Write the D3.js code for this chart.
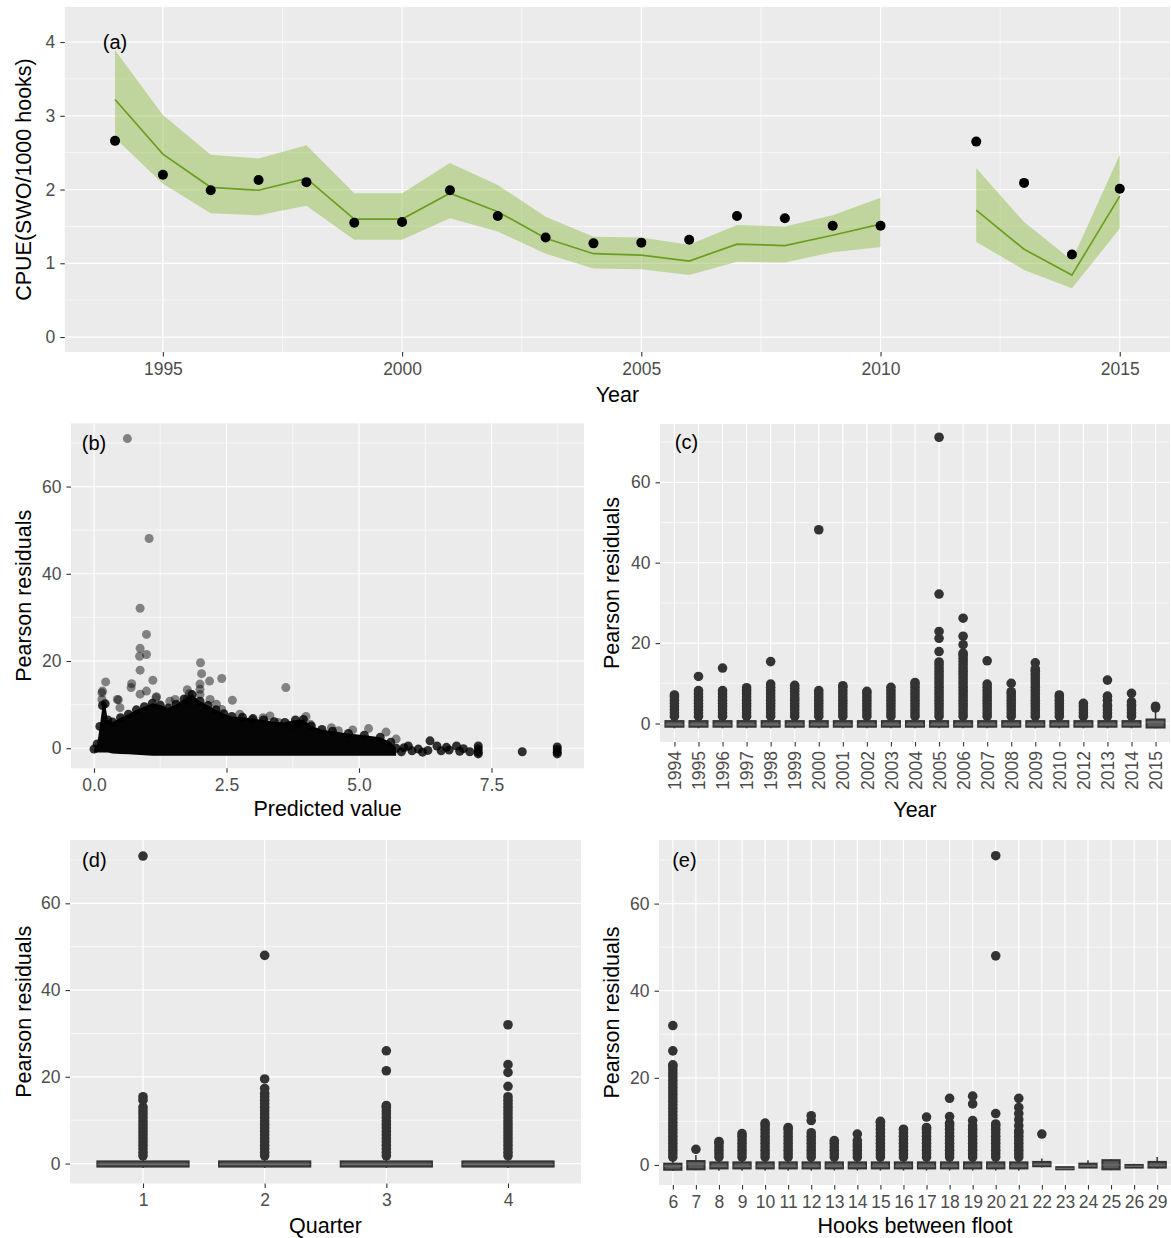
<!DOCTYPE html>
<html><head><meta charset="utf-8">
<script src="https://cdn.jsdelivr.net/npm/d3@7/dist/d3.min.js"></script>
<style>
body{margin:0;background:#fff}
svg{display:block}
</style></head><body>
<svg id="chart" width="1171" height="1238"></svg>
<script>
// ---------------- Panel (a): CPUE by year ----------------
const years = [1994,1995,1996,1997,1998,1999,2000,2001,2002,2003,2004,2005,2006,2007,2008,2009,2010,2012,2013,2014,2015];
const nominalCPUE = [2.66,2.20,1.99,2.13,2.10,1.55,1.56,1.99,1.64,1.35,1.27,1.28,1.32,1.64,1.61,1.51,1.51,2.65,2.09,1.12,2.01];
const stdCPUE     = [3.22,2.48,2.03,1.99,2.15,1.60,1.60,1.95,1.70,1.34,1.13,1.11,1.03,1.26,1.24,1.38,1.53,1.72,1.19,0.84,1.91];
const stdUpper    = [3.89,3.01,2.47,2.42,2.60,1.95,1.95,2.36,2.06,1.63,1.36,1.35,1.25,1.52,1.50,1.65,1.89,2.29,1.56,1.04,2.47];
const stdLower    = [2.70,2.08,1.68,1.65,1.78,1.32,1.32,1.61,1.43,1.13,0.93,0.92,0.84,1.02,1.01,1.15,1.22,1.29,0.91,0.66,1.47];
const yearTicksA = [1995,2000,2005,2010,2015];
const yearMinorA = [1997.5,2002.5,2007.5,2012.5];
const cpueTicks = [0,1,2,3,4];
const cpueMinor = [0.5,1.5,2.5,3.5];

// ---------------- Panel (b): residuals vs predicted ----------------
const predTicks = [0,2.5,5,7.5];
const predMinor = [1.25,3.75,6.25,8.75];
const residTicks = [0,20,40,60];
const residMinor = [10,30,50,70];
// dense cloud: [predicted, lower edge, upper point centre]
const massEnvelope = [[0.00,-1.0,-0.2],[0.06,-1.0,1.0],[0.11,-1.0,5.0],[0.16,-1.0,9.8],[0.21,-1.0,10.2],[0.26,-1.0,6.5],[0.35,-1.2,6.0],[0.50,-1.3,7.0],[0.65,-1.4,7.8],[0.80,-1.5,8.8],[0.95,-1.6,9.5],[1.10,-1.7,10.3],[1.25,-1.7,9.9],[1.40,-1.7,9.2],[1.55,-1.7,10.1],[1.70,-1.7,11.3],[1.85,-1.7,12.3],[2.00,-1.7,10.8],[2.15,-1.7,9.8],[2.30,-1.7,8.8],[2.45,-1.7,7.9],[2.60,-1.7,7.3],[2.80,-1.7,7.1],[3.00,-1.7,6.8],[3.20,-1.7,6.5],[3.40,-1.7,6.1],[3.60,-1.7,5.9],[3.80,-1.7,6.5],[3.95,-1.7,6.6],[4.10,-1.7,5.1],[4.30,-1.7,4.3],[4.50,-1.7,3.9],[4.80,-1.7,3.4],[5.10,-1.7,3.0],[5.40,-1.7,2.5],[5.60,-1.7,1.4],[5.70,-1.7,0.0]];
const scatterSparse = [[0.63,71.0],[1.04,48.1],[0.87,32.1],[0.99,26.1],[0.87,22.9],[0.99,21.5],[0.86,21.1],[0.87,17.9],[2.01,19.6],[2.03,17.1],[2.41,16.0],[2.18,15.4],[3.62,13.9],[0.22,15.2],[0.71,14.8],[0.70,13.9],[1.11,15.6],[0.16,13.1],[0.44,11.2],[1.76,13.4],[2.00,14.7],[2.61,11.0],[1.53,11.2],[1.18,11.8],[0.99,13.1],[0.87,12.4],[0.46,11.1],[0.49,9.3],[0.15,12.7],[0.15,11.2],[1.17,11.6],[1.43,10.8],[1.76,11.4],[2.19,11.2],[2.31,10.1],[2.41,8.9],[2.75,7.8],[2.98,6.5],[3.19,7.0],[3.32,7.4],[3.48,5.9],[3.67,5.3],[3.85,5.5],[4.00,7.3],[4.08,5.5],[4.48,4.7],[4.61,4.0],[4.88,4.2],[5.18,4.5],[5.51,3.7],[5.70,2.1],[1.80,12.5],[2.00,13.5],[2.00,12.3],[1.80,10.9]];
const scatterTail = [[5.80,-0.8],[5.85,0.1],[5.93,0.5],[6.00,-0.6],[6.12,-0.2],[6.20,-0.9],[6.30,-0.5],[6.34,1.7],[6.47,0.5],[6.55,-0.6],[6.65,0.2],[6.70,-0.4],[6.84,0.5],[6.90,-0.7],[6.97,-0.1],[7.09,-0.8],[7.25,0.5],[7.25,-0.2],[7.25,-0.9],[7.25,-1.3],[8.08,-0.8],[8.74,0.3],[8.74,-0.3],[8.74,-0.9],[8.74,-1.3]];

// ---------------- Panel (c): residuals by year ----------------
const yearCats = ["1994","1995","1996","1997","1998","1999","2000","2001","2002","2003","2004","2005","2006","2007","2008","2009","2010","2012","2013","2014","2015"];
// [lower whisker, q1, median, q3, upper whisker]
const yearBoxes = [[-1.2,-0.8,-0.3,0.6,1.6],[-1.2,-0.8,-0.3,0.6,1.6],[-1.2,-0.8,-0.3,0.6,1.6],[-1.2,-0.8,-0.3,0.6,1.6],[-1.2,-0.8,-0.3,0.6,1.6],[-1.2,-0.8,-0.3,0.6,1.6],[-1.2,-0.8,-0.3,0.6,1.6],[-1.2,-0.8,-0.3,0.6,1.6],[-1.2,-0.8,-0.3,0.6,1.6],[-1.2,-0.8,-0.3,0.6,1.6],[-1.2,-0.8,-0.3,0.6,1.6],[-1.2,-0.8,-0.3,0.6,1.6],[-1.2,-0.8,-0.3,0.6,1.6],[-1.2,-0.8,-0.3,0.6,1.6],[-1.2,-0.8,-0.3,0.6,1.6],[-1.2,-0.8,-0.3,0.6,1.6],[-1.2,-0.8,-0.3,0.6,1.6],[-1.2,-0.8,-0.3,0.6,1.6],[-1.2,-0.8,-0.3,0.6,1.6],[-1.2,-0.8,-0.3,0.6,1.6],[-1.2,-1.0,0.3,1.0,2.9]];
const yearOutliers = [
 [1.8,2.6,3.4,4.2,5.0,5.8,6.6,7.1],
 [1.8,2.6,3.4,4.2,5.0,5.8,6.6,7.4,8.2,11.7],
 [1.8,2.6,3.4,4.2,5.0,5.8,6.6,7.4,8.2,13.8],
 [1.8,2.6,3.4,4.2,5.0,5.8,6.6,7.4,8.2,8.9],
 [1.8,2.6,3.4,4.2,5.0,5.8,6.6,7.4,8.2,9.0,9.8,15.4],
 [1.8,2.6,3.4,4.2,5.0,5.8,6.4,7.2,8.0,8.8,9.5],
 [1.8,2.6,3.4,4.2,5.0,5.8,6.6,7.4,8.2,48.2],
 [1.8,2.6,3.4,4.2,5.0,5.8,6.6,7.4,8.2,9.0,9.4],
 [1.8,2.6,3.4,4.2,5.0,5.8,6.6,7.4,8.0],
 [1.8,2.6,3.4,4.2,5.0,5.8,6.6,7.4,8.2,9.0],
 [1.8,2.6,3.4,4.2,5.0,5.8,6.6,7.4,8.2,9.0,9.8,10.2],
 [1.8,2.6,3.4,4.2,5.0,5.8,6.6,7.4,8.2,9.0,9.8,10.6,11.4,12.2,13.0,13.8,14.6,15.3,17.9,21.2,22.9,32.2,71.2],
 [1.8,2.6,3.4,4.2,5.0,5.8,6.6,7.4,8.2,9.0,9.8,10.6,11.4,12.2,13.0,13.8,14.6,15.4,16.2,17.0,17.5,19.6,21.7,26.2],
 [1.8,2.6,3.4,4.2,5.0,5.8,6.6,7.4,8.2,9.0,9.8,15.6],
 [1.8,2.6,3.4,4.2,5.0,5.8,6.6,7.4,7.9,10.0],
 [1.8,2.6,3.4,4.2,5.0,5.8,6.6,7.4,8.2,9.0,9.8,10.6,11.4,12.2,13.0,13.6,15.1],
 [1.8,2.6,3.4,4.2,5.0,5.8,6.6,7.1],
 [1.8,2.6,3.4,4.2,5.0],
 [1.8,2.6,3.4,4.2,4.6,5.8,6.8,10.8],
 [1.8,2.6,3.4,4.2,4.7,5.4,7.5],
 [3.9,4.3]
];

// ---------------- Panel (d): residuals by quarter ----------------
const quarterCats = ["1","2","3","4"];
const quarterBoxes = [[-1.0,-0.7,-0.2,0.5,1.5],[-1.0,-0.7,-0.2,0.5,1.5],[-1.0,-0.7,-0.2,0.5,1.5],[-1.0,-0.7,-0.2,0.5,1.5]];
const quarterOutliers = [
 [1.8,2.6,3.4,4.2,5.0,5.8,6.6,7.4,8.2,9.0,9.8,10.6,11.4,12.2,13.0,14.6,15.4,70.9],
 [1.8,2.6,3.4,4.2,5.0,5.8,6.6,7.4,8.2,9.0,9.8,10.6,11.4,12.2,13.0,13.8,14.6,15.4,16.2,17.3,19.5,48.0],
 [1.8,2.6,3.4,4.2,5.0,5.8,6.6,7.4,8.2,9.0,9.8,10.6,11.4,12.2,13.0,13.4,21.4,26.0],
 [1.8,2.6,3.4,4.2,5.0,5.8,6.6,7.4,8.2,9.0,9.8,10.6,11.4,12.2,13.0,13.8,14.6,15.4,17.8,21.0,22.8,32.0]
];

// ---------------- Panel (e): residuals by hooks between floats ----------------
const hookCats = ["6","7","8","9","10","11","12","13","14","15","16","17","18","19","20","21","22","23","24","25","26","29"];
const hookBoxes = [[-1.4,-1.1,-0.3,0.3,1.3],[-1.2,-1.0,0.2,0.9,2.3],[-1.3,-0.8,-0.3,0.6,1.6],[-1.3,-0.8,-0.3,0.6,1.6],[-1.3,-0.8,-0.3,0.6,1.6],[-1.3,-0.8,-0.3,0.6,1.6],[-1.3,-0.8,-0.3,0.6,1.6],[-1.3,-0.8,-0.3,0.6,1.6],[-1.3,-0.8,-0.3,0.6,1.6],[-1.3,-0.8,-0.3,0.6,1.6],[-1.3,-0.8,-0.3,0.6,1.6],[-1.3,-0.8,-0.3,0.6,1.6],[-1.3,-0.8,-0.3,0.6,1.6],[-1.3,-0.8,-0.3,0.6,1.6],[-1.3,-0.8,-0.3,0.6,1.6],[-1.3,-0.8,-0.3,0.6,1.6],[-0.6,-0.3,0.1,0.7,1.5],[-1.0,-1.0,-0.8,-0.5,-0.5],[-0.7,-0.6,-0.2,0.3,1.1],[-1.2,-1.0,0.0,1.1,1.3],[-0.7,-0.6,-0.3,0.0,0.3],[-0.8,-0.6,-0.1,0.7,1.8]];
const hookOutliers = [
 [1.8,2.6,3.4,4.2,5.0,5.8,6.6,7.4,8.2,9.0,9.8,10.6,11.4,12.2,13.0,13.8,14.6,15.4,16.2,17.0,17.8,18.6,19.4,20.2,21.0,21.8,22.6,23.0,26.2,32.0],
 [3.6],
 [1.8,2.6,3.4,4.2,5.0,5.4],
 [1.8,2.6,3.4,4.2,5.0,5.8,6.6,7.2],
 [1.8,2.6,3.4,4.2,5.0,5.8,6.6,7.4,8.2,9.0,9.6],
 [1.8,2.6,3.4,4.2,5.0,5.8,6.6,7.4,8.2,8.6],
 [1.8,2.6,3.4,4.2,5.0,5.8,6.6,7.4,10.2,11.3],
 [1.8,2.6,3.4,4.2,5.0,5.6],
 [1.8,2.6,3.4,4.2,4.8,5.6,7.1],
 [1.8,2.6,3.4,4.2,5.0,5.8,6.6,7.4,8.2,9.0,9.8,10.0],
 [1.8,2.6,3.4,4.2,5.0,5.8,6.6,7.4,8.2],
 [1.8,2.6,3.4,4.2,5.0,5.8,6.6,7.4,8.2,8.6,11.0],
 [1.8,2.6,3.4,4.2,5.0,5.8,6.6,7.4,8.2,9.0,9.6,11.1,15.3],
 [1.8,2.6,3.4,4.2,5.0,5.8,6.6,7.4,8.2,9.0,10.2,14.0,15.8],
 [1.8,2.6,3.4,4.2,5.0,5.8,6.6,7.4,8.2,9.0,9.4,11.8,48.0,71.0],
 [1.8,2.6,3.4,4.2,5.0,5.8,6.6,7.4,7.8,9.0,10.4,11.8,13.2,15.3],
 [7.1],
 [],[],[],[],[]
];

// ================= drawing =================
const FONT = '"Liberation Sans", Arial, Helvetica, sans-serif';
const BG = "#ebebeb", TICKC = "#333333", LABC = "#4d4d4d", BOXC = "#333333";
const TICK_FS = 17.5, TITLE_FS = 21.5, TAG_FS = 20;
const svg = d3.select("#chart");

function panelBg(p){
  svg.append("rect").attr("x",p.x0).attr("y",p.y0).attr("width",p.x1-p.x0).attr("height",p.y1-p.y0).attr("fill",BG);
}
function gridH(p, y, vals, w){
  vals.forEach(v => svg.append("line").attr("x1",p.x0).attr("x2",p.x1).attr("y1",y(v)).attr("y2",y(v)).attr("stroke","#fff").attr("stroke-width",w));
}
function gridV(p, xs, w){
  xs.forEach(px => svg.append("line").attr("y1",p.y0).attr("y2",p.y1).attr("x1",px).attr("x2",px).attr("stroke","#fff").attr("stroke-width",w));
}
function styleAxis(g){
  g.select(".domain").remove();
  g.attr("font-family",FONT).attr("font-size",TICK_FS);
  g.selectAll(".tick line").attr("stroke",TICKC).attr("stroke-width",1.1);
  g.selectAll(".tick text").attr("fill",LABC);
  return g;
}
function yAxis(p, y, vals, fmt){
  const g = svg.append("g").attr("transform",`translate(${p.x0},0)`)
    .call(d3.axisLeft(y).tickValues(vals).tickFormat(fmt).tickSize(4.5).tickPadding(5));
  styleAxis(g);
}
function xAxis(p, x, vals, fmt){
  const ax = d3.axisBottom(x).tickSize(4.5).tickPadding(6);
  if (vals) ax.tickValues(vals);
  if (fmt) ax.tickFormat(fmt);
  const g = svg.append("g").attr("transform",`translate(0,${p.y1})`).call(ax);
  return styleAxis(g);
}
function yTitle(p, cx, label){
  const cy = (p.y0+p.y1)/2;
  svg.append("text").attr("transform",`translate(${cx},${cy}) rotate(-90)`)
    .attr("text-anchor","middle").attr("dominant-baseline","central")
    .attr("font-family",FONT).attr("font-size",TITLE_FS).attr("fill","#000").text(label);
}
function xTitle(p, baseline, label){
  svg.append("text").attr("x",(p.x0+p.x1)/2).attr("y",baseline).attr("text-anchor","middle")
    .attr("font-family",FONT).attr("font-size",TITLE_FS).attr("fill","#000").text(label);
}
function tag(px, py, label){
  svg.append("text").attr("x",px).attr("y",py).attr("text-anchor","middle").attr("dominant-baseline","central")
    .attr("font-family",FONT).attr("font-size",TAG_FS).attr("fill","#000").text(label);
}
function drawBoxes(x, y, cats, boxes, outl){
  const bw = x.step()*0.75;
  const g = svg.append("g");
  cats.forEach((c,i) => {
    const [lw,q1,med,q3,uw] = boxes[i];
    const cx = x(c);
    g.append("line").attr("x1",cx).attr("x2",cx).attr("y1",y(uw)).attr("y2",y(q3)).attr("stroke",BOXC).attr("stroke-width",1.5);
    g.append("line").attr("x1",cx).attr("x2",cx).attr("y1",y(q1)).attr("y2",y(lw)).attr("stroke",BOXC).attr("stroke-width",1.5);
    g.append("rect").attr("x",cx-bw/2).attr("y",y(q3)).attr("width",bw).attr("height",Math.max(0.5,y(q1)-y(q3)))
      .attr("fill","#5a5a5a").attr("stroke",BOXC).attr("stroke-width",2);
    g.append("line").attr("x1",cx-bw/2).attr("x2",cx+bw/2).attr("y1",y(med)).attr("y2",y(med)).attr("stroke","#6a6a6a").attr("stroke-width",1.4);
    g.selectAll(null).data(outl[i]).enter().append("circle")
      .attr("cx",cx).attr("cy",d=>y(d)).attr("r",4.8).attr("fill",BOXC);
  });
}

// ---------- Panel (a) ----------
{
  const p = {x0:64.8, x1:1170, y0:7, y1:352};
  const x = d3.scaleLinear().domain([1992.95,2016.05]).range([p.x0,p.x1]);
  const y = d3.scaleLinear().domain([-0.203,4.475]).range([p.y1,p.y0]);
  panelBg(p);
  gridH(p,y,cpueMinor,0.6); gridV(p,yearMinorA.map(x),0.6);
  gridH(p,y,cpueTicks,1.2); gridV(p,yearTicksA.map(x),1.2);
  const rows = years.map((yr,i)=>({yr, obs:nominalCPUE[i], est:stdCPUE[i], hi:stdUpper[i], lo:stdLower[i]}));
  const segs = [];
  rows.forEach((r,i)=>{ if(i===0 || r.yr-rows[i-1].yr>1) segs.push([]); segs[segs.length-1].push(r); });
  const area = d3.area().x(d=>x(d.yr)).y0(d=>y(d.lo)).y1(d=>y(d.hi));
  const line = d3.line().x(d=>x(d.yr)).y(d=>y(d.est));
  segs.forEach(s=>{
    svg.append("path").attr("d",area(s)).attr("fill","#96c052").attr("fill-opacity",0.5);
    svg.append("path").attr("d",line(s)).attr("fill","none").attr("stroke","#6b9e1f").attr("stroke-width",1.7);
  });
  svg.append("g").selectAll("circle").data(rows).enter().append("circle")
    .attr("cx",d=>x(d.yr)).attr("cy",d=>y(d.obs)).attr("r",5).attr("fill","#000");
  yAxis(p,y,cpueTicks,d3.format("d"));
  xAxis(p,x,yearTicksA,d3.format("d"));
  yTitle(p,24,"CPUE(SWO/1000 hooks)");
  xTitle(p,402,"Year");
  tag(x(1994),y(4),"(a)");
}

// ---------- Panel (b) ----------
{
  const p = {x0:71, x1:584, y0:423.3, y1:768.3};
  const x = d3.scaleLinear().domain([-0.434,9.245]).range([p.x0,p.x1]);
  const y = d3.scaleLinear().domain([-4.6,74.5]).range([p.y1,p.y0]);
  panelBg(p);
  gridH(p,y,residMinor,0.6); gridV(p,predMinor.map(x),0.6);
  gridH(p,y,residTicks,1.2); gridV(p,predTicks.map(x),1.2);
  const area = d3.area().x(d=>x(d[0])).y0(d=>y(d[1])).y1(d=>y(d[2]));
  svg.append("path").attr("d",area(massEnvelope)).attr("fill","#050505");
  svg.append("g").selectAll("circle").data(massEnvelope).enter().append("circle")
    .attr("cx",d=>x(d[0])).attr("cy",d=>y(d[2])).attr("r",4.5).attr("fill","#000").attr("fill-opacity",0.8);
  svg.append("g").selectAll("circle").data(scatterTail).enter().append("circle")
    .attr("cx",d=>x(d[0])).attr("cy",d=>y(d[1])).attr("r",4.5).attr("fill","#000").attr("fill-opacity",0.8);
  svg.append("g").selectAll("circle").data(scatterSparse).enter().append("circle")
    .attr("cx",d=>x(d[0])).attr("cy",d=>y(d[1])).attr("r",4.5).attr("fill","#000").attr("fill-opacity",0.45);
  yAxis(p,y,residTicks,d3.format("d"));
  xAxis(p,x,predTicks,d3.format(".1f"));
  yTitle(p,24,"Pearson residuals");
  xTitle(p,816,"Predicted value");
  tag(x(0),y(70),"(b)");
}

// ---------- Panel (c) ----------
{
  const p = {x0:660, x1:1170, y0:424, y1:742};
  const x = d3.scalePoint().domain(yearCats).range([p.x0,p.x1]).padding(0.6);
  const y = d3.scaleLinear().domain([-4.6,74.5]).range([p.y1,p.y0]);
  panelBg(p);
  gridH(p,y,residMinor,0.6);
  gridH(p,y,residTicks,1.2); gridV(p,yearCats.map(x),1.2);
  drawBoxes(x,y,yearCats,yearBoxes,yearOutliers);
  yAxis(p,y,residTicks,d3.format("d"));
  const g = xAxis(p,x,null,null);
  g.selectAll(".tick text").attr("transform","rotate(-90)").attr("text-anchor","end")
    .attr("x",-9).attr("y",0).attr("dy","0.35em");
  yTitle(p,612,"Pearson residuals");
  xTitle(p,817,"Year");
  tag(x("1994")+0.5*x.step(),y(70),"(c)");
}

// ---------- Panel (d) ----------
{
  const p = {x0:70, x1:581, y0:840, y1:1183.5};
  const x = d3.scalePoint().domain(quarterCats).range([p.x0,p.x1]).padding(0.6);
  const y = d3.scaleLinear().domain([-4.6,74.6]).range([p.y1,p.y0]);
  panelBg(p);
  gridH(p,y,residMinor,0.6);
  gridH(p,y,residTicks,1.2); gridV(p,quarterCats.map(x),1.2);
  drawBoxes(x,y,quarterCats,quarterBoxes,quarterOutliers);
  yAxis(p,y,residTicks,d3.format("d"));
  xAxis(p,x,null,null);
  yTitle(p,24,"Pearson residuals");
  xTitle(p,1233,"Quarter");
  tag(x("1")-0.4*x.step(),y(70),"(d)");
}

// ---------- Panel (e) ----------
{
  const p = {x0:659, x1:1171, y0:840, y1:1185};
  const x = d3.scalePoint().domain(hookCats).range([p.x0,p.x1]).padding(0.6);
  const y = d3.scaleLinear().domain([-4.6,74.6]).range([p.y1,p.y0]);
  panelBg(p);
  gridH(p,y,residMinor,0.6);
  gridH(p,y,residTicks,1.2); gridV(p,hookCats.map(x),1.2);
  drawBoxes(x,y,hookCats,hookBoxes,hookOutliers);
  yAxis(p,y,residTicks,d3.format("d"));
  xAxis(p,x,null,null);
  yTitle(p,612,"Pearson residuals");
  xTitle(p,1233,"Hooks between floot");
  tag(x("6")+0.5*x.step(),y(70),"(e)");
}
</script>
</body></html>
